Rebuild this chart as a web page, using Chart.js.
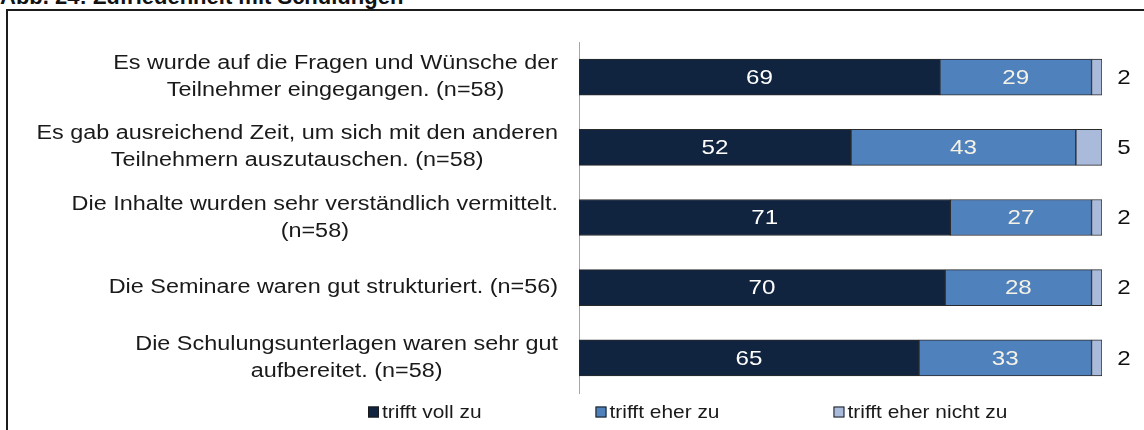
<!DOCTYPE html>
<html>
<head>
<meta charset="utf-8">
<script src="https://cdn.jsdelivr.net/npm/chart.js@4.4.0/dist/chart.umd.min.js"></script>
<style>
  html, body { margin: 0; padding: 0; background: #fff; overflow: hidden; }
  #wrap { position: relative; width: 1144px; height: 430px; }
  #title { position: absolute; left: 0; top: -14px; font: bold 22px "Liberation Sans", Arial, sans-serif; line-height: 22px; color: #111; white-space: nowrap; }
  #frame { position: absolute; left: 6px; top: 9px; width: 1200px; height: 500px; border: 2px solid #1c1c1c; }
  #chart { position: absolute; left: 0; top: 0; }
</style>
</head>
<body>
<div id="wrap">
  <div id="title">Abb. 24: Zufriedenheit mit Schulungen</div>
  <div id="frame"></div>
  <canvas id="chart" width="1144" height="430"></canvas>
</div>
<script>
  const categories = [
    ["Es wurde auf die Fragen und Wünsche der", "Teilnehmer eingegangen. (n=58)"],
    ["Es gab ausreichend Zeit, um sich mit den anderen", "Teilnehmern auszutauschen. (n=58)"],
    ["Die Inhalte wurden sehr verständlich vermittelt.", "(n=58)"],
    ["Die Seminare waren gut strukturiert. (n=56)"],
    ["Die Schulungsunterlagen waren sehr gut", "aufbereitet. (n=58)"]
  ];
  const seriesNames = ["trifft voll zu", "trifft eher zu", "trifft eher nicht zu"];
  const vollZu = [69, 52, 71, 70, 65];
  const eherZu = [29, 43, 27, 28, 33];
  const eherNicht = [2, 5, 2, 2, 2];

  const colors = ["#10233f", "#4f81bd", "#a9badb"];
  const FAMILY = '"Liberation Sans", Arial, sans-serif';

  // the original text is a bit wide, so draw it stretched horizontally
  function wideText(ctx, text, x, y, stretch) {
    ctx.save();
    ctx.translate(x, y);
    ctx.scale(stretch, 1);
    ctx.fillText(text, 0, 0);
    ctx.restore();
  }

  const labelPlugin = {
    id: "labelPlugin",
    afterDatasetsDraw(chart) {
      const ctx = chart.ctx;
      const yScale = chart.scales.y;
      const area = chart.chartArea;
      ctx.save();
      ctx.textBaseline = "middle";
      ctx.textAlign = "center";

      // category labels: lines centered, block right aligned
      ctx.font = "20px " + FAMILY;
      ctx.fillStyle = "#1a1a1a";
      const catStretch = 1.17;
      categories.forEach((lines, i) => {
        const cy = yScale.getPixelForValue(i);
        const maxW = Math.max(...lines.map(l => ctx.measureText(l).width)) * catStretch;
        const cx = area.left - 21 - maxW / 2;
        lines.forEach((line, j) => {
          wideText(ctx, line, cx, cy + (j - (lines.length - 1) / 2) * 27, catStretch);
        });
      });

      // value labels
      ctx.font = "21px " + FAMILY;
      chart.data.datasets.forEach((ds, di) => {
        const meta = chart.getDatasetMeta(di);
        meta.data.forEach((bar, i) => {
          const txt = String(ds.data[i]);
          if (di < 2) {
            ctx.fillStyle = di === 0 ? "#ffffff" : "#f4f1e6";
            wideText(ctx, txt, (bar.x + bar.base) / 2, bar.y + 1, 1.15);
          } else {
            ctx.fillStyle = "#111";
            wideText(ctx, txt, area.right + 22, bar.y + 1, 1.15);
          }
        });
      });

      // legend
      ctx.font = "19px " + FAMILY;
      ctx.textAlign = "left";
      const legStretch = 1.1;
      let x = 368;
      const ly = 412;
      chart.data.datasets.forEach((ds) => {
        ctx.fillStyle = ds.backgroundColor;
        ctx.fillRect(x, ly - 5.5, 11, 11);
        ctx.strokeStyle = "#1a1a1a";
        ctx.lineWidth = 1;
        ctx.strokeRect(x + 0.5, ly - 5, 10, 10);
        ctx.fillStyle = "#1a1a1a";
        wideText(ctx, ds.label, x + 14, ly + 1, legStretch);
        x += 14 + ctx.measureText(ds.label).width * legStretch + 114;
      });
      ctx.restore();
    }
  };

  new Chart(document.getElementById("chart"), {
    type: "bar",
    data: {
      labels: categories,
      datasets: [
        { label: seriesNames[0], data: vollZu, backgroundColor: colors[0] },
        { label: seriesNames[1], data: eherZu, backgroundColor: colors[1] },
        { label: seriesNames[2], data: eherNicht, backgroundColor: colors[2] }
      ]
    },
    options: {
      indexAxis: "y",
      responsive: false,
      animation: false,
      datasets: {
        bar: { barThickness: 36, borderColor: "#2a2a2a", borderWidth: 1, borderSkipped: false }
      },
      layout: { padding: { top: 42, right: 42, bottom: 37, left: 0 } },
      scales: {
        x: { stacked: true, min: 0, max: 100, display: false },
        y: {
          stacked: true,
          ticks: { display: false },
          grid: { display: false },
          border: { display: true, color: "#a6a6a6", width: 1 },
          afterFit: (scale) => { scale.width = 579; }
        }
      },
      plugins: {
        legend: { display: false },
        tooltip: { enabled: false }
      }
    },
    plugins: [labelPlugin]
  });
</script>
</body>
</html>
